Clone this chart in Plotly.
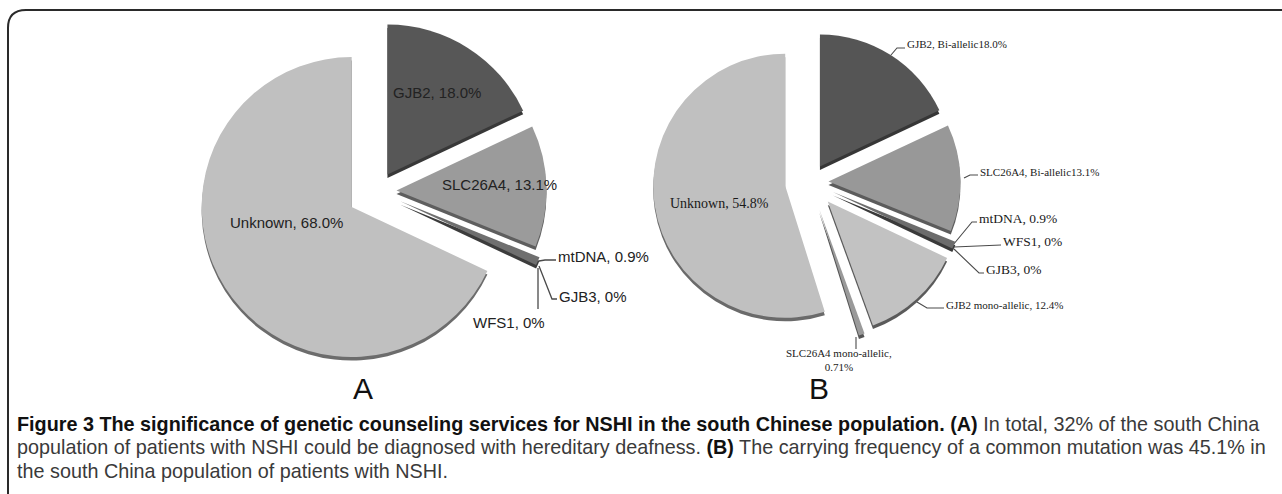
import plotly.graph_objects as go

W, H = 1282, 494

# ---- Panel A: hereditary causes of NSHI ----
a_labels = ["GJB2", "SLC26A4", "mtDNA", "GJB3", "WFS1", "Unknown"]
a_values = [18.0, 13.1, 0.9, 0.0, 0.0, 68.0]

# ---- Panel B: including mono-allelic carriers ----
b_labels = ["GJB2, Bi-allelic", "SLC26A4, Bi-allelic", "mtDNA", "WFS1", "GJB3",
            "GJB2 mono-allelic", "SLC26A4 mono-allelic", "Unknown"]
b_values = [18.0, 13.1, 0.9, 0.0, 0.0, 12.4, 0.71, 54.8]

panel_letters = ["A", "B"]

BOLD = '<b><span style="color:#111111">{}</span></b>'
caption_lines = [
    BOLD.format("Figure 3 The significance of genetic counseling services for NSHI in the south Chinese population. (A)")
    + " In total, 32% of the south China",
    "population of patients with NSHI could be diagnosed with hereditary deafness. " + BOLD.format("(B)")
    + " The carrying frequency of a common mutation was 45.1% in",
    "the south China population of patients with NSHI.",
]


def pct(v):
    if v == 0:
        return "0%"
    s = f"{v:.2f}"
    if s.endswith("0"):
        s = s[:-1]
    return s + "%"


# ---- styling ----
a_style = dict(
    center=(377, 191), r=150,
    pull=[0.13, 0.13, 0.17, 0.17, 0.17, 0.20],
    colors=["#575757", "#9b9b9b", "#6f6f6f", "#505050", "#505050", "#c0c0c0"],
    shade=["#383838", "#5e5e5e", "#3c3c3c", "#333333", "#333333", "#6c6c6c"],
)
b_style = dict(
    center=(810, 182), r=132,
    pull=[0.14, 0.14, 0.19, 0.19, 0.19, 0.20, 0.22, 0.19],
    colors=["#555555", "#989898", "#6c6c6c", "#505050", "#505050", "#c2c2c2", "#9a9a9a", "#c0c0c0"],
    shade=["#363636", "#5c5c5c", "#3a3a3a", "#333333", "#333333", "#5a5a5a", "#555555", "#6a6a6a"],
)

SANS = "Liberation Sans, Arial, sans-serif"
SERIF = "Liberation Serif, Times New Roman, serif"
INK = "#222222"


def pie_domain(style, dy=0.0):
    cx, cy = style["center"]
    half = style["r"] * (1 + max(style["pull"]))
    x0, x1 = (cx - half) / W, (cx + half) / W
    ytop, ybot = cy - half + dy, cy + half + dy
    return dict(x=[x0, x1], y=[1 - ybot / H, 1 - ytop / H])


def pie_pair(labels, values, style):
    common = dict(labels=labels, values=values, sort=False, direction="clockwise",
                  rotation=0, pull=style["pull"], textinfo="none", showlegend=False,
                  hoverinfo="label+value")
    under = go.Pie(**common, domain=pie_domain(style, dy=3.5),
                   marker=dict(colors=style["shade"], line=dict(width=0)))
    top = go.Pie(**common, domain=pie_domain(style),
                 marker=dict(colors=style["colors"], line=dict(width=0)))
    return [under, top]


fig = go.Figure()
for tr in pie_pair(a_labels, a_values, a_style) + pie_pair(b_labels, b_values, b_style):
    fig.add_trace(tr)

# ---- label placement: (x, y, anchor, size, leader polyline) ----
a_place = {
    "GJB2": (437, 92, "center", 15, None),
    "SLC26A4": (499, 184, "center", 15, None),
    "Unknown": (286, 222, "center", 15, None),
    "mtDNA": (556, 256, "left", 15, [(539, 261), (545, 260), (556, 260)]),
    "GJB3": (557, 296, "left", 15, [(539, 266), (552, 299), (557, 299)]),
    "WFS1": (509, 322, "center", 15, [(538, 268), (538, 309)]),
}
b_place = {
    "GJB2, Bi-allelic": (905, 44, "left", 11, "", [(891, 55), (897, 48), (905, 48)]),
    "SLC26A4, Bi-allelic": (978, 172, "left", 11, "", [(964, 178), (970, 175), (978, 175)]),
    "mtDNA": (977, 218, "left", 13.5, ", ", [(953, 245), (972, 222), (977, 222)]),
    "WFS1": (1001, 241, "left", 13.5, ", ", [(954, 247), (1001, 245)]),
    "GJB3": (984, 269, "left", 13.5, ", ", [(954, 249), (979, 273), (984, 273)]),
    "GJB2 mono-allelic": (944, 305, "left", 11, ", ", [(917, 302), (927, 308), (944, 308)]),
    "SLC26A4 mono-allelic": (839, 360, "center", 11, ",<br>", [(856, 337), (856, 349)]),
    "Unknown": (719, 203, "center", 14, ", ", None),
}

annotations = []
for lab, val in zip(a_labels, a_values):
    x, y, anchor, size, leader = a_place[lab]
    annotations.append(dict(x=x, y=y, xref="x", yref="y", xanchor=anchor, yanchor="middle",
                            text=f"{lab}, {pct(val)}", showarrow=False,
                            font=dict(family=SANS, size=size, color=INK)))
    if leader:
        xs, ys = zip(*leader)
        fig.add_trace(go.Scatter(x=xs, y=ys, mode="lines", hoverinfo="skip", showlegend=False,
                                 line=dict(color="#4a4a4a", width=1.3)))

for lab, val in zip(b_labels, b_values):
    x, y, anchor, size, sep, leader = b_place[lab]
    annotations.append(dict(x=x, y=y, xref="x", yref="y", xanchor=anchor, yanchor="middle",
                            text=f"{lab}{sep}{pct(val)}", showarrow=False, align="center",
                            font=dict(family=SERIF, size=size, color="#1a1a1a")))
    if leader:
        xs, ys = zip(*leader)
        fig.add_trace(go.Scatter(x=xs, y=ys, mode="lines", hoverinfo="skip", showlegend=False,
                                 line=dict(color="#4a4a4a", width=1.1)))

# panel letters
for letter, (lx, ly) in zip(panel_letters, [(363, 388), (819, 388)]):
    annotations.append(dict(x=lx, y=ly, xref="x", yref="y", text=letter, showarrow=False,
                            xanchor="center", yanchor="middle",
                            font=dict(family=SANS, size=30, color="#111111")))

# caption
for i, line in enumerate(caption_lines):
    annotations.append(dict(x=15, y=424 + 23.3 * i, xref="x", yref="y", text=line,
                            showarrow=False, xanchor="left", yanchor="middle",
                            font=dict(family=SANS, size=19.8, color="#3a3a3a")))

fig.update_layout(
    width=W, height=H, autosize=False,
    margin=dict(l=0, r=0, t=0, b=0),
    paper_bgcolor="white", plot_bgcolor="white",
    showlegend=False,
    xaxis=dict(range=[0, W], visible=False, fixedrange=True),
    yaxis=dict(range=[H, 0], visible=False, fixedrange=True),
    annotations=annotations,
    shapes=[dict(type="path", xref="x", yref="y",
                 path=f"M 8,{H} L 8,28 Q 8,10 26,10 L {W},10",
                 line=dict(color="#2a2a2a", width=2), layer="above")],
)

fig.write_html("out.html")
